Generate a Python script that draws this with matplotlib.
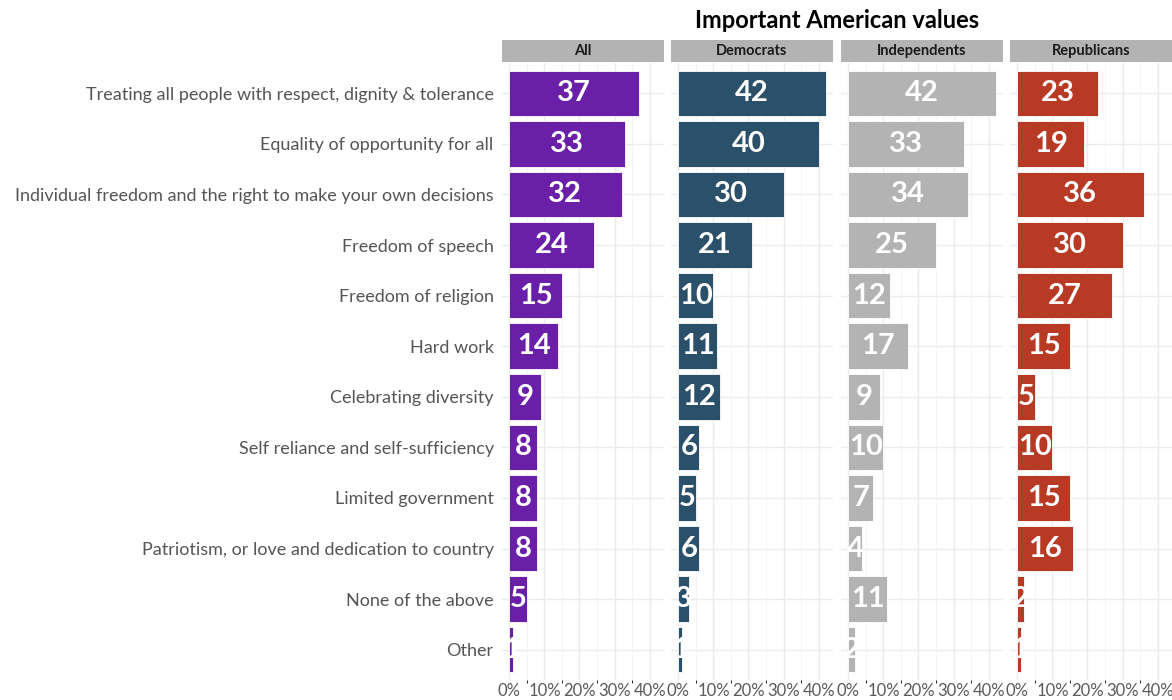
import matplotlib
matplotlib.use("Agg")
import matplotlib.pyplot as plt
import numpy as np

plt.rcParams['font.family'] = ['Lato', 'DejaVu Sans']

categories = ["Treating all people with respect, dignity & tolerance",
              "Equality of opportunity for all",
              "Individual freedom and the right to make your own decisions",
              "Freedom of speech",
              "Freedom of religion",
              "Hard work",
              "Celebrating diversity",
              "Self reliance and self-sufficiency",
              "Limited government",
              "Patriotism, or love and dedication to country",
              "None of the above",
              "Other"]
groups = ["All", "Democrats", "Independents", "Republicans"]
all_vals = [37, 33, 32, 24, 15, 14, 9, 8, 8, 8, 5, 1]
dem_vals = [42, 40, 30, 21, 10, 11, 12, 6, 5, 6, 3, 1]
ind_vals = [42, 33, 34, 25, 12, 17, 9, 10, 7, 4, 11, 2]
rep_vals = [23, 19, 36, 30, 27, 15, 5, 10, 15, 16, 2, 1]
series = [all_vals, dem_vals, ind_vals, rep_vals]
colors = ["#6A1FA8", "#2B5069", "#B3B3B3", "#B83A25"]
xticks = [0, 10, 20, 30, 40]
title = "Important American values"

W, H = 1172, 700
fig = plt.figure(figsize=(W / 100, H / 100), dpi=100)

lefts = [502, 671, 841, 1010]
pw = 162
top, bottom = 63, 680
ypos = np.arange(len(categories))[::-1]

for i, (g, vals, col) in enumerate(zip(groups, series, colors)):
    ax = fig.add_axes([lefts[i] / W, 1 - bottom / H, pw / W, (bottom - top) / H])
    ax.barh(ypos, vals, height=0.9, color=col, edgecolor="white", linewidth=0.6, zorder=3)
    for y, v in zip(ypos, vals):
        ax.text(v / 2, y, str(v), ha="center", va="center", color="white",
                fontsize=21, fontweight="bold", zorder=4)
    ax.set_xlim(-2.1, 44.1)
    ax.set_ylim(-0.6, len(categories) - 0.4)
    ax.set_xticks(xticks)
    ax.set_xticks([5, 15, 25, 35], minor=True)
    ax.set_xticklabels([f"{t}%" for t in xticks], fontsize=12, color="#5a5a5a")
    ax.set_yticks(ypos)
    if i == 0:
        ax.set_yticklabels(categories, fontsize=13, color="#555555")
    else:
        ax.set_yticklabels([])
    ax.tick_params(length=0, pad=6)
    ax.tick_params(axis="x", pad=2)
    ax.grid(True, which="major", color="#EBEBEB", linewidth=1.0, zorder=0)
    ax.grid(True, which="minor", axis="x", color="#F2F2F2", linewidth=0.6, zorder=0)
    for s in ax.spines.values():
        s.set_visible(False)
    # facet strip
    sax = fig.add_axes([lefts[i] / W, 1 - 62 / H, pw / W, 22 / H])
    sax.set_facecolor("#B3B3B3")
    sax.set_xticks([])
    sax.set_yticks([])
    for s in sax.spines.values():
        s.set_visible(False)
    sax.text(0.5, 0.5, g, ha="center", va="center", fontsize=10.5,
             fontweight="bold", color="#1a1a1a", transform=sax.transAxes)

fig.text(837 / W, 1 - 21 / H, title, ha="center", va="center",
         fontsize=17, fontweight="bold", color="black")

fig.savefig("out.png", dpi=100)
